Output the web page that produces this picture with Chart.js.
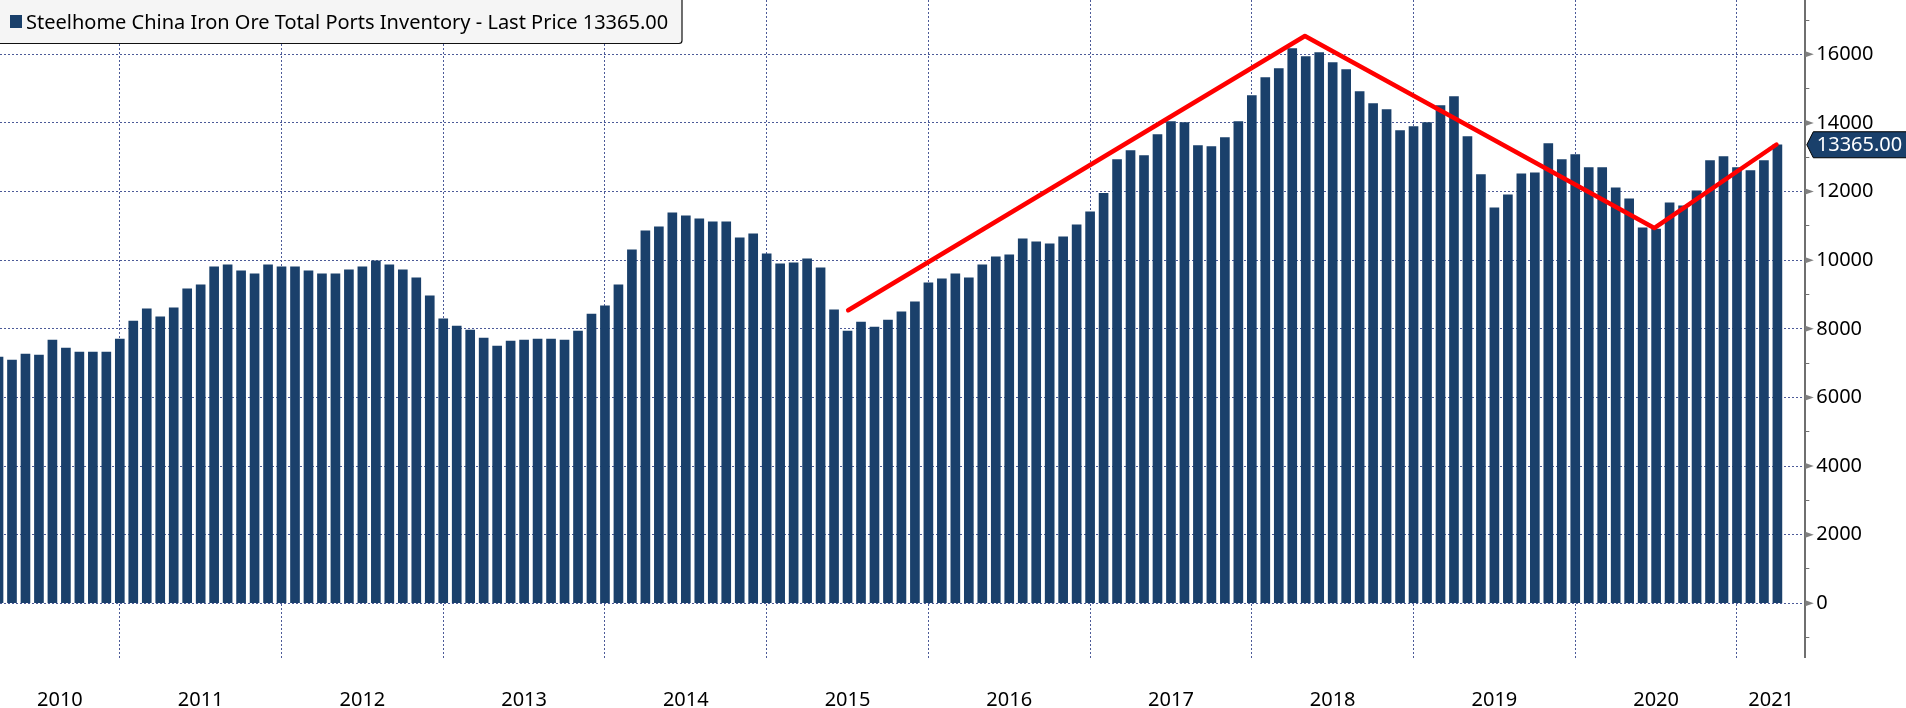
<!DOCTYPE html>
<html>
<head>
<meta charset="utf-8">
<title>Steelhome China Iron Ore Total Ports Inventory</title>
<script src="https://cdn.jsdelivr.net/npm/chart.js@4/dist/chart.umd.min.js"></script>
<style>
  html, body { margin: 0; padding: 0; background: #fff; overflow: hidden; }
  canvas { display: block; }
</style>
</head>
<body>
<canvas id="myChart" width="1906" height="708"></canvas>
<script>
// monthly inventory (first bar is cut by the left edge)
const inventory = [
  7178, 7091, 7266, 7237, 7675, 7441, 7324, 7324, 7324, 7704, 8229, 8579,
  8346, 8609, 9163, 9280, 9805, 9864, 9689, 9601, 9864, 9805, 9805, 9689,
  9601, 9601, 9718, 9805, 9981, 9864, 9718, 9484, 8959, 8288, 8083, 7966,
  7733, 7499, 7645, 7675, 7704, 7704, 7675, 7937, 8433, 8667, 9280, 10302,
  10856, 10973, 11382, 11294, 11207, 11119, 11119, 10652, 10769, 10185, 9893, 9922,
  10039, 9776, 8550, 7937, 8200, 8054, 8258, 8492, 8784, 9338, 9455, 9601,
  9484, 9864, 10097, 10156, 10623, 10535, 10477, 10681, 11031, 11411, 11950, 12936,
  13198, 13052, 13660, 14040, 14010, 13338, 13309, 13572, 14039, 14798, 15323, 15586,
  16170, 15936, 16053, 15761, 15557, 14915, 14564, 14389, 13776, 13893, 14010, 14506,
  14769, 13601, 12492, 11529, 11908, 12521, 12550, 13397, 12930, 13076, 12696, 12696,
  12112, 11791, 10945, 10906, 11674, 11587, 12025, 12900, 13017, 12696, 12609, 12900,
  13365,
];

// bar positions where each calendar year starts
const yearStarts = [9, 21, 33, 45, 57, 69, 81, 93, 105, 117, 129];
const yearLabels = ["2010", "2011", "2012", "2013", "2014", "2015", "2016", "2017", "2018", "2019", "2020", "2021"];

// labelled values on the right axis, and the unlabelled ticks between them
const majorTicks = [0, 2000, 4000, 6000, 8000, 10000, 12000, 14000, 16000];
const minorTicks = [-1000, 1000, 3000, 5000, 7000, 9000, 11000, 13000, 15000, 17000];

// hand drawn red trend line
const trendX = [63.05, 96.94, 122.86, 131.93];
const trendY = [8542, 16535, 10937, 13372];

const legendText = "Steelhome China Iron Ore Total Ports Inventory - Last Price 13365.00";
const lastPrice = 13365;
const lastPriceText = "13365.00";

const BAR_BLUE = "#1a406b";
const GRID_BLUE = "#4c5a98";
const AXIS_GREY = "#6f6f6f";
const FONT = '"Noto Sans", sans-serif';

const X_MIN = 0.11;
const X_MAX = 134.07;

// year label sits in the middle of its year
const yearEdges = [X_MIN, ...yearStarts, X_MAX];
const labelTicks = yearLabels.map((label, i) => (yearEdges[i] + yearEdges[i + 1]) / 2);

// triangles on the axis, legend box and last price callout
const overlayPlugin = {
  id: "overlay",
  afterDraw(chart) {
    const { ctx, scales } = chart;
    const axisX = chart.chartArea.right;
    ctx.save();

    // major tick arrows
    ctx.fillStyle = "#808080";
    majorTicks.forEach((v) => {
      const y = scales.y.getPixelForValue(v);
      ctx.beginPath();
      ctx.moveTo(axisX, y - 3);
      ctx.lineTo(axisX + 8.5, y);
      ctx.lineTo(axisX, y + 3);
      ctx.closePath();
      ctx.fill();
    });

    // legend box
    ctx.beginPath();
    ctx.roundRect(-6, -6, 688, 49.5, 3);
    ctx.fillStyle = "#f5f5f5";
    ctx.fill();
    ctx.lineWidth = 1.2;
    ctx.strokeStyle = "#111";
    ctx.stroke();
    ctx.fillStyle = BAR_BLUE;
    ctx.fillRect(10, 15, 12, 13);
    ctx.fillStyle = "#000";
    ctx.font = "20px " + FONT;
    ctx.textAlign = "left";
    ctx.textBaseline = "alphabetic";
    ctx.fillText(legendText, 26, 29, 644);

    // last price callout
    const py = scales.y.getPixelForValue(lastPrice);
    ctx.beginPath();
    ctx.moveTo(axisX + 1.5, py);
    ctx.lineTo(axisX + 8, py - 13);
    ctx.lineTo(1910, py - 13);
    ctx.lineTo(1910, py + 13);
    ctx.lineTo(axisX + 8, py + 13);
    ctx.closePath();
    ctx.fillStyle = BAR_BLUE;
    ctx.fill();
    ctx.lineWidth = 1;
    ctx.strokeStyle = "#000";
    ctx.stroke();
    ctx.fillStyle = "#fff";
    ctx.textBaseline = "middle";
    ctx.fillText(lastPriceText, axisX + 11.5, py + 0.5);

    ctx.restore();
  },
};

new Chart(document.getElementById("myChart").getContext("2d"), {
  type: "bar",
  data: {
    datasets: [
      {
        type: "line",
        data: trendX.map((x, i) => ({ x: x, y: trendY[i] })),
        borderColor: "#ff0000",
        borderWidth: 4.5,
        borderCapStyle: "round",
        borderJoinStyle: "round",
        pointRadius: 0,
        tension: 0,
        order: 0,
      },
      {
        data: inventory.map((v, i) => ({ x: i, y: v })),
        backgroundColor: BAR_BLUE,
        barThickness: 9,
        order: 1,
      },
    ],
  },
  options: {
    responsive: false,
    animation: false,
    events: [],
    layout: { padding: 0 },
    plugins: { legend: { display: false }, tooltip: { enabled: false } },
    scales: {
      x: {
        type: "linear",
        bounds: "data",
        offset: false,
        min: X_MIN,
        max: X_MAX,
        afterFit: (scale) => {
          scale.height = 50.5;
          scale.paddingLeft = 0;
          scale.paddingRight = 0;
        },
        afterBuildTicks: (scale) => {
          scale.ticks = [...yearStarts, ...labelTicks].sort((a, b) => a - b).map((value) => ({ value }));
        },
        grid: {
          offset: false,
          drawTicks: false,
          lineWidth: 1,
          color: (c) => (c.tick && yearStarts.includes(c.tick.value) ? GRID_BLUE : "rgba(0,0,0,0)"),
        },
        border: { display: false, dash: [2, 2] },
        ticks: {
          autoSkip: false,
          maxRotation: 0,
          padding: 30.5,
          color: "#000",
          font: { family: FONT, size: 20 },
          callback: (value) => {
            const i = labelTicks.indexOf(value);
            return i >= 0 ? yearLabels[i] : "";
          },
        },
      },
      y: {
        position: "right",
        bounds: "data",
        min: -1580,
        max: 17584,
        afterFit: (scale) => {
          scale.width = 100.7;
          scale.paddingTop = 0;
          scale.paddingBottom = 0;
        },
        afterBuildTicks: (scale) => {
          scale.ticks = [...minorTicks, ...majorTicks].sort((a, b) => a - b).map((value) => ({ value }));
        },
        border: { color: AXIS_GREY, width: 2, dash: [2, 2] },
        grid: {
          lineWidth: 1,
          tickLength: 4,
          tickColor: AXIS_GREY,
          color: (c) => (c.tick && majorTicks.includes(c.tick.value) ? GRID_BLUE : "rgba(0,0,0,0)"),
        },
        ticks: {
          autoSkip: false,
          padding: 7,
          color: "#000",
          font: { family: FONT, size: 20 },
          callback: (value) => (majorTicks.includes(value) ? String(value) : ""),
        },
      },
    },
  },
  plugins: [overlayPlugin],
});
</script>
</body>
</html>
